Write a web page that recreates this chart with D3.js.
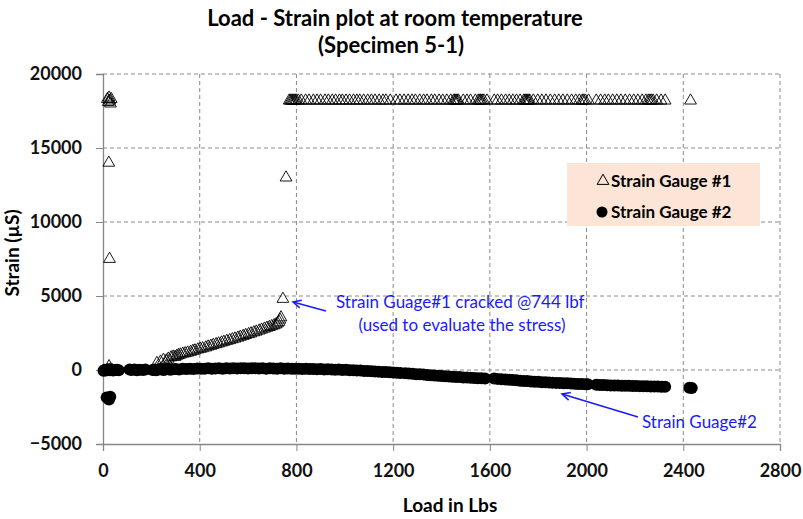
<!DOCTYPE html>
<html>
<head>
<meta charset="utf-8">
<script src="https://cdn.jsdelivr.net/npm/d3@7"></script>
<style>
  body { margin: 0; background: #fff; }
  svg { font-family: Lato, 'Open Sans', sans-serif; }
</style>
</head>
<body>
<svg id="chart" width="803" height="519"></svg>
<script>
// x ticks and y ticks as shown on the chart
const xTicks = [0, 400, 800, 1200, 1600, 2000, 2400, 2800];
const yTicks = [-5000, 0, 5000, 10000, 15000, 20000];

// Strain Gauge #1 : [load (lbs), strain (uS)]
const gauge1 = [
    [18, 18300], [22, 18100], [25, 18400], [28, 18200], [31, 18000], [34, 18300],
    [24, 14000], [27, 7500], [25, 250], [20, 0], [30, 40], [38, -20],
    [223, 470], [238, 560], [250, 680], [262, 640], [270, 760], [282, 850],
    [290, 900], [298, 880], [305, 950], [312, 1000], [320, 1040], [330, 1100],
    [340, 1130], [350, 1170], [362, 1220], [372, 1290], [380, 1320], [392, 1380],
    [402, 1430], [412, 1460], [425, 1520], [435, 1580], [446, 1630], [456, 1690],
    [468, 1740], [478, 1790], [490, 1850], [500, 1900], [512, 1960], [524, 2010],
    [535, 2070], [546, 2120], [558, 2180], [568, 2240], [580, 2300], [590, 2360],
    [602, 2420], [612, 2470], [624, 2540], [634, 2590], [646, 2660], [656, 2720],
    [668, 2790], [678, 2850], [688, 2900], [698, 2960], [708, 3020], [716, 3080],
    [722, 3150], [728, 3250], [732, 3400], [736, 3550], [744, 4800], [757, 13000],
    [770, 18200], [775, 18200], [780, 18200], [785, 18200], [790, 18200], [795, 18200],
    [800, 18200], [808, 18200], [820, 18200], [838, 18200], [852, 18200], [870, 18200],
    [885, 18200], [900, 18200], [918, 18200], [932, 18200], [948, 18200], [962, 18200],
    [978, 18200], [990, 18200], [1005, 18200], [1020, 18200], [1036, 18200], [1050, 18200],
    [1062, 18200], [1078, 18200], [1095, 18200], [1110, 18200], [1125, 18200], [1142, 18200],
    [1158, 18200], [1170, 18200], [1188, 18200], [1212, 18200], [1228, 18200], [1245, 18200],
    [1262, 18200], [1278, 18200], [1292, 18200], [1310, 18200], [1326, 18200], [1340, 18200],
    [1358, 18200], [1372, 18200], [1390, 18200], [1405, 18200], [1422, 18200], [1438, 18200],
    [1450, 18200], [1455, 18200], [1460, 18200], [1465, 18200], [1470, 18200], [1490, 18200],
    [1505, 18200], [1520, 18200], [1540, 18200], [1552, 18200], [1558, 18200], [1562, 18200],
    [1568, 18200], [1575, 18200], [1588, 18200], [1618, 18200], [1632, 18200], [1648, 18200],
    [1665, 18200], [1680, 18200], [1695, 18200], [1710, 18200], [1725, 18200], [1740, 18200],
    [1745, 18200], [1750, 18200], [1755, 18200], [1760, 18200], [1765, 18200], [1780, 18200],
    [1798, 18200], [1815, 18200], [1832, 18200], [1850, 18200], [1868, 18200], [1885, 18200],
    [1902, 18200], [1920, 18200], [1938, 18200], [1955, 18200], [1970, 18200], [1982, 18200],
    [1988, 18200], [1995, 18200], [2008, 18200], [2040, 18200], [2058, 18200], [2075, 18200],
    [2090, 18200], [2108, 18200], [2125, 18200], [2142, 18200], [2160, 18200], [2178, 18200],
    [2195, 18200], [2212, 18200], [2230, 18200], [2245, 18200], [2255, 18200], [2262, 18200],
    [2268, 18200], [2275, 18200], [2290, 18200], [2308, 18200], [2325, 18200], [2430, 18200]
];

// Strain Gauge #2 : [load (lbs), strain (uS)]
const gauge2 = [
    [2, -50], [8, 20], [12, -30], [18, 0], [22, 40], [28, -20], [35, 10], [42, -40],
    [50, 0], [58, 20], [65, -10], [15, -1850], [22, -1950], [30, -1800], [25, -2000],
    [110, 30], [118, 0], [130, 40], [140, -10], [150, 20], [165, 0], [175, 30],
    [205, 0], [212, 40], [220, -10], [230, 30], [240, 50], [250, 0], [258, 40],
    [268, 60], [278, 20], [288, 50], [300, 70], [315, 40], [330, 80], [345, 60],
    [360, 90], [375, 70], [390, 100], [405, 80], [420, 90], [435, 110], [450, 80],
    [465, 100], [480, 110], [495, 90], [510, 110], [525, 100], [540, 120], [555, 100],
    [570, 110], [585, 120], [600, 100], [615, 110], [630, 120], [645, 100], [660, 110],
    [675, 90], [690, 110], [705, 100], [720, 90], [735, 110], [750, 80], [765, 100],
    [780, 90], [795, 80], [810, 90], [825, 70], [840, 80], [855, 60], [870, 70],
    [885, 50], [900, 60], [915, 40], [930, 50], [945, 30], [960, 20], [975, 30],
    [990, 0], [1005, 10], [1020, -20], [1035, -10], [1050, -40], [1065, -30], [1080, -60],
    [1095, -70], [1110, -80], [1125, -100], [1140, -110], [1155, -130], [1170, -140],
    [1185, -150], [1200, -170], [1215, -190], [1230, -200], [1250, -220], [1265, -230],
    [1280, -250], [1295, -280], [1310, -290], [1325, -310], [1340, -330], [1355, -350],
    [1370, -370], [1385, -390], [1400, -410], [1415, -420], [1430, -440], [1445, -450],
    [1460, -470], [1475, -480], [1490, -500], [1505, -510], [1520, -530], [1535, -540],
    [1550, -550], [1565, -560], [1580, -570], [1618, -580], [1632, -600], [1648, -620],
    [1665, -640], [1680, -660], [1695, -680], [1710, -700], [1725, -720], [1740, -740],
    [1755, -750], [1770, -770], [1785, -790], [1800, -800], [1815, -820], [1830, -830],
    [1845, -850], [1860, -860], [1875, -870], [1890, -880], [1905, -890], [1920, -900],
    [1935, -920], [1950, -930], [1965, -940], [1980, -950], [1995, -960], [2005, -970],
    [2040, -1000], [2055, -1010], [2070, -1020], [2085, -1030], [2100, -1040], [2115, -1040],
    [2130, -1050], [2145, -1060], [2160, -1060], [2175, -1070], [2190, -1080], [2205, -1080],
    [2220, -1090], [2235, -1100], [2250, -1100], [2265, -1110], [2280, -1110], [2295, -1120],
    [2310, -1130], [2325, -1130], [2425, -1200], [2435, -1210]
];

const legendLabels = ['Strain Gauge #1', 'Strain Gauge #2'];

const margin = {left: 103, right: 23, top: 74, bottom: 75};
const width = 803, height = 519;
const svg = d3.select('#chart');

const x = d3.scaleLinear().domain([0, 2800]).range([margin.left, width - margin.right]);
const y = d3.scaleLinear().domain([-5000, 20000]).range([height - margin.bottom, margin.top]);

// title
svg.append('text')
    .attr('x', 395).attr('y', 26)
    .attr('text-anchor', 'middle')
    .attr('font-size', 22).attr('font-weight', 'bold')
    .text('Load - Strain plot at room temperature');
svg.append('text')
    .attr('x', 391).attr('y', 53)
    .attr('text-anchor', 'middle')
    .attr('font-size', 22).attr('font-weight', 'bold')
    .text('(Specimen 5-1)');

// dashed grid
const grid = svg.append('g').attr('stroke', '#8c8c8c').attr('stroke-dasharray', '4,3');
grid.selectAll('line.v')
    .data(xTicks.filter(function(d) { return d > 0; }))
    .enter().append('line')
    .attr('x1', function(d) { return x(d); }).attr('x2', function(d) { return x(d); })
    .attr('y1', y(20000)).attr('y2', y(-5000));
grid.selectAll('line.h')
    .data(yTicks.filter(function(d) { return d > -5000; }))
    .enter().append('line')
    .attr('y1', function(d) { return y(d); }).attr('y2', function(d) { return y(d); })
    .attr('x1', x(0)).attr('x2', x(2800));

// axes
const xAxis = svg.append('g')
    .attr('transform', 'translate(0,' + y(-5000) + ')')
    .call(d3.axisBottom(x).tickValues(xTicks).tickSize(7).tickPadding(13).tickFormat(d3.format('d')));
const yAxis = svg.append('g')
    .attr('transform', 'translate(' + x(0) + ',0)')
    .call(d3.axisLeft(y).tickValues(yTicks).tickSize(7).tickPadding(14).tickFormat(d3.format('d')));
[xAxis, yAxis].forEach(function(a) {
    a.select('.domain').attr('stroke', '#868686').attr('stroke-width', 1.3);
    a.selectAll('.tick line').attr('stroke', '#868686');
    a.selectAll('.tick text')
        .attr('font-size', 18).attr('font-weight', 'bold')
        .attr('font-family', 'Lato, sans-serif').attr('fill', '#111');
});

svg.append('text')
    .attr('x', 450).attr('y', 512)
    .attr('text-anchor', 'middle')
    .attr('font-size', 19).attr('font-weight', 'bold')
    .text('Load in Lbs');
svg.append('text')
    .attr('transform', 'translate(19,253) rotate(-90)')
    .attr('text-anchor', 'middle')
    .attr('font-size', 19).attr('font-weight', 'bold')
    .text('Strain (\u00b5S)');

// markers
const tri = d3.symbol().type(d3.symbolTriangle).size(60);
svg.append('g').attr('class', 'gauge2')
    .selectAll('circle')
    .data(gauge2)
    .enter().append('circle')
    .attr('cx', function(d) { return x(d[0]); })
    .attr('cy', function(d) { return y(d[1]); })
    .attr('r', 6)
    .attr('fill', '#000');
svg.append('g').attr('class', 'gauge1')
    .selectAll('path')
    .data(gauge1)
    .enter().append('path')
    .attr('d', tri)
    .attr('transform', function(d) { return 'translate(' + x(d[0]) + ',' + y(d[1]) + ')'; })
    .attr('fill', 'none')
    .attr('stroke', '#000')
    .attr('stroke-width', 0.9);

// legend
const legend = svg.append('g');
legend.append('rect')
    .attr('x', 567).attr('y', 163).attr('width', 193).attr('height', 63)
    .attr('fill', '#fce4d6');
legend.append('path')
    .attr('d', tri)
    .attr('transform', 'translate(603,181)')
    .attr('fill', 'none').attr('stroke', '#000');
legend.append('circle')
    .attr('cx', 602).attr('cy', 212).attr('r', 5.5).attr('fill', '#000');
legend.selectAll('text.lbl')
    .data(legendLabels)
    .enter().append('text')
    .attr('x', 611)
    .attr('y', function(d, i) { return 187 + i * 31; })
    .attr('font-size', 17).attr('font-weight', 'bold')
    .text(function(d) { return d; });

// annotations
const blue = '#1a1aff';
function arrow(x1, y1, x2, y2) {
    const a = Math.atan2(y2 - y1, x2 - x1);
    const g = svg.append('g').attr('stroke', blue).attr('stroke-width', 1.5).attr('fill', 'none');
    g.append('line').attr('x1', x1).attr('y1', y1).attr('x2', x2).attr('y2', y2);
    g.append('path').attr('d',
        'M' + (x2 - 9 * Math.cos(a - 0.45)) + ',' + (y2 - 9 * Math.sin(a - 0.45)) +
        'L' + x2 + ',' + y2 +
        'L' + (x2 - 9 * Math.cos(a + 0.45)) + ',' + (y2 - 9 * Math.sin(a + 0.45)));
}
arrow(326, 311, 293, 302);
arrow(638, 417, 562, 394);

svg.append('text')
    .attr('x', 336).attr('y', 308)
    .attr('font-size', 17).attr('fill', blue)
    .text('Strain Guage#1 cracked @744 lbf');
svg.append('text')
    .attr('x', 462).attr('y', 331)
    .attr('text-anchor', 'middle')
    .attr('font-size', 17).attr('fill', blue)
    .text('(used to evaluate the stress)');
svg.append('text')
    .attr('x', 642).attr('y', 428)
    .attr('font-size', 17).attr('fill', blue)
    .text('Strain Guage#2');
</script>
</body>
</html>
